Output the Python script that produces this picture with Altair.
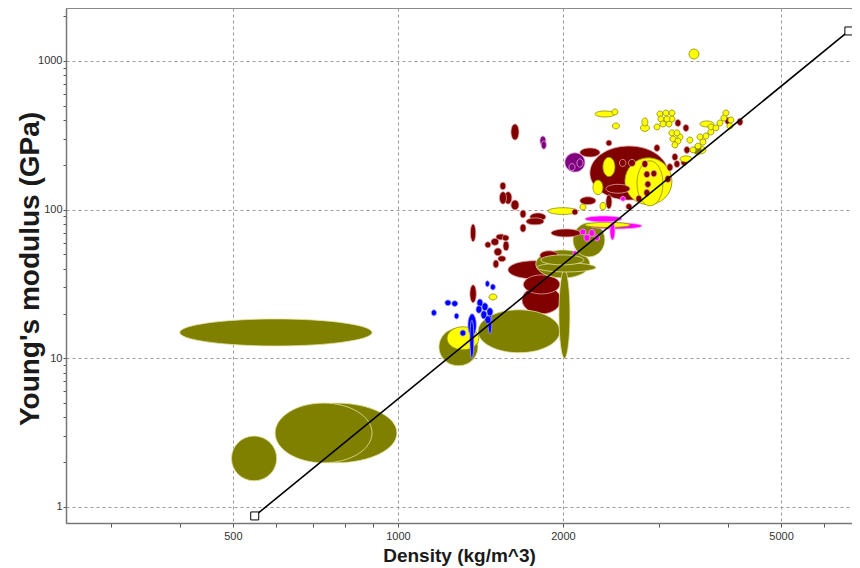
import math
import altair as alt
import pandas as pd

# ---------------- data (ranges) ----------------
# each entry: (density_min, density_max, modulus_min, modulus_max)
OLIVE = [
    (400, 897, 12.1, 18.4), (597, 996, 1.98, 5.0), (597, 897, 1.98, 5.0),
    (497, 601, 1.5, 3.0), (1188, 1400, 8.9, 16.0), (1400, 1975, 10.9, 21.2),
    (1967, 2060, 10.0, 39.3), (1785, 2240, 34.7, 53.6), (1793, 2297, 38.1, 43.8),
    (1823, 2185, 42.5, 49.6), (2086, 2386, 48.1, 81.5), (3453, 3587, 233, 272),
]
MAROON = [
    (1588, 1975, 34.2, 45.3), (1694, 1975, 27.1, 36.4), (1684, 1984, 19.9, 30.7),
    (1816, 1959, 45.9, 52.8), (2240, 3110, 116, 268), (2148, 2337, 226, 260),
    (2396, 2457, 268, 294), (2932, 3007, 246, 274), (2787, 2858, 192, 214),
    (2810, 2882, 164, 182), (2895, 2968, 166, 184), (2822, 2894, 141, 156),
    (2810, 2882, 123, 137), (2718, 2787, 112, 125), (3162, 3242, 214, 239),
    (3189, 3270, 192, 214), (3284, 3367, 198, 220), (3325, 3410, 239, 266),
    (3096, 3175, 182, 204), (3070, 3149, 152, 170), (3202, 3284, 362, 404),
    (3312, 3396, 336, 374), (3950, 4051, 374, 418), (4156, 4261, 368, 412),
    (2148, 2297, 108, 122), (2396, 2457, 101, 126), (2606, 2673, 100, 110),
    (2077, 2130, 92, 101), (1902, 2157, 65.5, 74.1), (1741, 1862, 84, 95),
    (1713, 1847, 79, 88), (1608, 1663, 294, 377), (1535, 1574, 136, 153),
    (1532, 1578, 109, 132), (1564, 1614, 109, 132), (1608, 1663, 99.5, 116),
    (1670, 1713, 88, 99.5), (1670, 1713, 70.5, 80.1), (1356, 1387, 60.8, 80.1),
    (1441, 1478, 55.3, 60.8), (1478, 1528, 57.4, 64.1), (1509, 1574, 62.6, 68.6),
    (1550, 1595, 61.6, 67.6), (1555, 1595, 52.8, 61.6), (1497, 1548, 48.9, 55.3),
    (1522, 1574, 44.6, 48.9), (1491, 1528, 40.5, 45.9), (1353, 1390, 23.6, 31.2),
    (2536, 2606, 195, 218), (2634, 2712, 195, 218), (2396, 2651, 129, 148),
]
PURPLE = [
    (2017, 2194, 179, 241), (2051, 2104, 183, 204), (2121, 2176, 193, 220),
    (1816, 1862, 268, 313), (1826, 1866, 255, 290),
]
MAGENTA = [
    (2194, 2563, 82.7, 90.7), (2240, 2787, 74.1, 81.5), (2437, 2489, 62.6, 82.7),
    (2148, 2203, 67.6, 74.1), (2185, 2240, 61.2, 68.1), (2231, 2288, 66.0, 73.5),
    (2283, 2332, 61.6, 67.6), (2547, 2600, 114, 123), (2086, 2121, 49.6, 52.8),
]
YELLOW = [
    (3396, 3542, 1031, 1204), (2288, 2489, 420, 461), (2457, 2520, 434, 476),
    (2462, 2536, 349, 383), (2770, 2876, 336, 374), (2787, 2858, 365, 414),
    (2969, 3045, 420, 461), (3045, 3122, 427, 468), (3122, 3202, 427, 468),
    (2982, 3058, 389, 427), (3058, 3135, 389, 427), (3122, 3202, 389, 427),
    (3007, 3083, 360, 395), (3083, 3162, 360, 395), (2932, 3007, 344, 377),
    (3122, 3202, 313, 344), (3189, 3270, 313, 344), (3229, 3312, 294, 323),
    (3136, 3216, 285, 313), (3202, 3284, 276, 303), (3162, 3242, 260, 285),
    (3410, 3498, 241, 264), (3483, 3572, 256, 280), (3557, 3648, 272, 298),
    (3513, 3602, 294, 323), (3602, 3694, 298, 328), (3678, 3772, 318, 349),
    (3756, 3852, 339, 371), (3678, 3772, 344, 377), (3820, 3917, 365, 401),
    (3884, 3983, 395, 434), (3917, 4017, 427, 468), (4000, 4103, 383, 420),
    (3983, 4086, 349, 383), (3557, 3772, 360, 395), (3468, 3648, 237, 268),
    (3270, 3439, 209, 230), (3367, 3453, 280, 308), (2595, 3162, 108, 223),
    (2730, 3045, 106, 213), (2366, 2489, 167, 225), (2269, 2366, 126, 158),
    (2148, 2203, 99.5, 109), (2337, 2396, 99.5, 112), (1878, 2130, 92.9, 103),
    (2194, 2651, 75.9, 82.1), (1466, 1516, 24.7, 27.1), (1229, 1405, 11.4, 16.3),
]
BLUE = [
    (1151, 1176, 19.3, 21.2), (1218, 1250, 22.6, 24.7), (1254, 1286, 22.3, 24.4),
    (1267, 1292, 18.4, 20.1), (1444, 1469, 30.3, 33.2), (1475, 1506, 28.8, 31.6),
    (1394, 1429, 22.2, 25.1), (1423, 1460, 20.9, 23.6), (1417, 1453, 18.4, 20.9),
    (1441, 1478, 17.1, 19.3), (1453, 1491, 19.3, 21.9), (1460, 1484, 14.6, 20.4),
    (1342, 1390, 14.1, 19.9), (1353, 1376, 10.0, 18.1), (1298, 1330, 14.1, 15.5),
    (1388, 1423, 20.1, 22.6),
]

# class -> (fill, outline, draw-order weight)
CLASSES = [
    (OLIVE, "#808000", "#e3e3a6", 1.0),
    (MAROON, "#800000", "#e2a4a4", 4.0),
    (PURPLE, "#800080", "#d9a8d9", 1.0),
    (MAGENTA, "#ff00ff", "#ffa0ff", 1.0),
    (YELLOW, "#ffff00", "#8c8c10", 1.0),
    (BLUE, "#0000ff", "#a0a0ff", 1.0),
]

# guide line E / rho^3 = const
GUIDE_DENSITY = [548, 6650]
GUIDE_MODULUS = [0.87, 1592]

X_DOMAIN = [248, 6737]
Y_DOMAIN = [0.78, 2272]
X_TICKS = [300, 400, 500, 600, 700, 800, 900, 1000, 2000, 3000, 4000, 5000, 6000]
X_LABELS = [500, 1000, 2000, 5000]
Y_TICKS = [1, 2, 3, 4, 5, 6, 7, 8, 9, 10, 20, 30, 40, 50, 60, 70, 80, 90,
           100, 200, 300, 400, 500, 600, 700, 800, 900, 1000, 2000]
Y_LABELS = [1, 10, 100, 1000]

# ---------------- build ellipse symbols ----------------
W, H = 786, 515
ppx = W / math.log10(X_DOMAIN[1] / X_DOMAIN[0])
ppy = H / math.log10(Y_DOMAIN[1] / Y_DOMAIN[0])
K = 0.5523


def ellipse_path(rx, ry):
    k = K
    f = lambda v: f"{v:.4f}"
    return (f"M{f(rx)},0C{f(rx)},{f(k*ry)} {f(k*rx)},{f(ry)} 0,{f(ry)}"
            f"C{f(-k*rx)},{f(ry)} {f(-rx)},{f(k*ry)} {f(-rx)},0"
            f"C{f(-rx)},{f(-k*ry)} {f(-k*rx)},{f(-ry)} 0,{f(-ry)}"
            f"C{f(k*rx)},{f(-ry)} {f(rx)},{f(-k*ry)} {f(rx)},0Z")


rows = []
for data, fill, stroke, weight in CLASSES:
    for (r0, r1, e0, e1) in data:
        w = math.log10(r1 / r0) * ppx
        h = math.log10(e1 / e0) * ppy
        m = max(w, h)
        rows.append({
            "rho": math.sqrt(r0 * r1),
            "E": math.sqrt(e0 * e1),
            "path": ellipse_path(w / m, h / m),
            "size": m * m,
            "rank": w * h * weight,
            "fill": fill,
            "stroke": stroke,
        })
df = pd.DataFrame(rows).sort_values("rank", ascending=False, kind="stable").reset_index(drop=True)
guide = pd.DataFrame({"rho": GUIDE_DENSITY, "E": GUIDE_MODULUS})

xs = alt.Scale(type="log", domain=X_DOMAIN, nice=False, zero=False)
ys = alt.Scale(type="log", domain=Y_DOMAIN, nice=False, zero=False)


def cond(vals, yes, no):
    return {"condition": {"test": f"indexof({vals}, datum.value) >= 0", "value": yes}, "value": no}


common = dict(
    grid=True, gridDash=[3, 3], gridColor="#9a9a9a", gridWidth=1,
    tickColor="#555555", domainColor="#777777", domainWidth=1.5,
    labelFont="Liberation Sans", labelFontSize=11, labelColor="#333333",
    labelOverlap=False, labelFlush=False,
    titleFont="Liberation Sans", titleFontWeight="bold", titleColor="#1a1a1a",
)

x_axis = alt.Axis(
    values=X_TICKS,
    labelExpr=f"indexof({X_LABELS}, datum.value) >= 0 ? format(datum.value, 'd') : ''",
    gridOpacity=cond(X_LABELS, 1, 0), labelPadding=3, tickSize=4,
    titleFontSize=19, titleX=W / 2, titleY=38, titleBaseline="alphabetic",
    **common,
)
y_axis = alt.Axis(
    values=Y_TICKS,
    labelExpr=f"indexof({Y_LABELS}, datum.value) >= 0 ? format(datum.value, 'd') : ''",
    gridOpacity=cond(Y_LABELS, 1, 0), labelPadding=1, tickSize=3,
    titleFontSize=28, titleX=-36, titleY=H / 2 + 3, titleBaseline="middle",
    **common,
)

X_ENC = alt.X("rho:Q", scale=xs, axis=x_axis, title="Density (kg/m^3)")
Y_ENC = alt.Y("E:Q", scale=ys, axis=y_axis, title="Young's modulus (GPa)")

ellipses = alt.Chart(df).mark_point(filled=True, opacity=1, strokeWidth=0.8).encode(
    x=X_ENC,
    y=Y_ENC,
    shape=alt.Shape("path:N", scale=None),
    size=alt.Size("size:Q", scale=None),
    fill=alt.Fill("fill:N", scale=None),
    stroke=alt.Stroke("stroke:N", scale=None),
)

line = alt.Chart(guide).mark_line(color="black", strokeWidth=1.6).encode(x=X_ENC, y=Y_ENC)
ends = alt.Chart(guide).mark_point(shape="square", filled=True, color="white",
                                   stroke="black", strokeWidth=1, size=64, opacity=1).encode(
    x=X_ENC, y=Y_ENC)

chart = alt.layer(ellipses, line, ends).properties(
    width=W, height=H,
    autosize=alt.AutoSizeParams(type="none"),
    padding={"left": 58, "top": 0, "right": 0, "bottom": 50},
).configure_view(stroke="#8a8a8a", strokeWidth=1)

chart.save("out.html", embed_options={"renderer": "svg", "actions": False})
